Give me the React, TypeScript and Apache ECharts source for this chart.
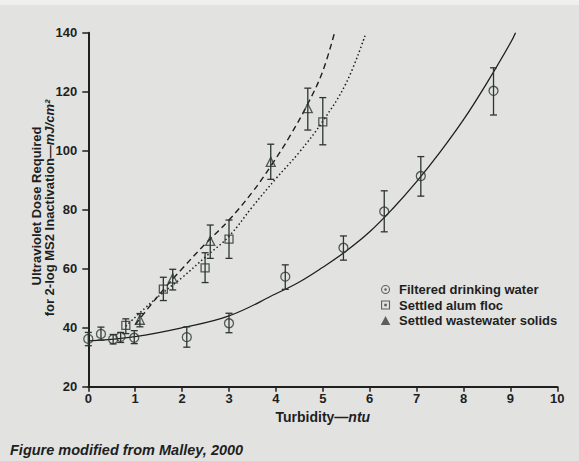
import React, { useEffect, useRef } from "react";
import * as echarts from "echarts";

// ---- Data ----
const filteredX = [0, 0.27, 0.53, 0.69, 0.98, 2.1, 3.0, 4.2, 5.44, 6.31, 7.09, 8.64];
const filteredY = [36.2, 37.9, 36.1, 36.9, 36.6, 36.8, 41.5, 57.3, 67.1, 79.4, 91.4, 120.3];
const filteredLow = [33.9, 35.8, 34.5, 35.0, 34.6, 33.4, 38.3, 53.0, 62.9, 72.5, 84.6, 112.1];
const filteredHigh = [38.4, 40.2, 37.7, 38.4, 39.0, 40.3, 44.9, 61.3, 71.1, 86.4, 98.0, 128.1];

const alumX = [0.8, 1.6, 2.49, 3.0, 5.0];
const alumY = [40.8, 53.1, 60.3, 70.0, 109.8];
const alumLow = [38.0, 49.2, 55.3, 63.5, 102.0];
const alumHigh = [43.0, 57.1, 65.4, 76.5, 118.0];

const wasteX = [1.1, 1.8, 2.6, 3.89, 4.68];
const wasteY = [42.7, 56.7, 69.4, 96.2, 114.4];
const wasteLow = [40.3, 52.8, 63.5, 90.3, 107.0];
const wasteHigh = [44.8, 59.8, 74.8, 102.2, 121.2];

// fitted curves
const solidCurveX = [0, 1, 2, 3, 4, 4.5, 5, 5.5, 6, 6.5, 7, 7.5, 8, 8.5, 9, 9.11];
const solidCurveY = [35.5, 37, 40, 44, 51.5, 55.5, 60.5, 66, 72.5, 80.5, 89.5, 99.5, 110.5, 123, 136.5, 140];

const dashedCurveX = [1.0, 1.5, 2.0, 2.5, 3.0, 3.5, 3.9, 4.3, 4.7, 5.0, 5.25];
const dashedCurveY = [41, 51, 60, 68.5, 76.5, 86, 95, 105, 116.5, 127, 140];

const dottedCurveX = [0.8, 1.2, 1.6, 2.0, 2.5, 3.0, 3.5, 4.0, 4.5, 5.0, 5.5, 5.9];
const dottedCurveY = [40.5, 46.5, 52, 57, 64, 71, 81, 90.5, 99.5, 110, 123, 139];

const seriesNames = ["Filtered drinking water", "Settled alum floc", "Settled wastewater solids"];
const xTicks = { min: 0, max: 10, interval: 1 };
const yTicks = { min: 20, max: 140, interval: 20 };

const FONT = '"Liberation Sans", Arial, Helvetica, sans-serif';
const INK = "#1e1f1e";
const MARK = "#2c352f";

const zip = (xs: number[], ys: number[]) => xs.map((x, i) => [x, ys[i]]);
const zip3 = (xs: number[], lo: number[], hi: number[]) => xs.map((x, i) => [x, lo[i], hi[i]]);

const errorBarRender = (params: any, api: any) => {
  const x = api.value(0);
  const lo = api.coord([x, api.value(1)]);
  const hi = api.coord([x, api.value(2)]);
  const cap = 3.5;
  const style = { stroke: MARK, lineWidth: 1.3 };
  return {
    type: "group",
    children: [
      { type: "line", shape: { x1: lo[0], y1: lo[1], x2: hi[0], y2: hi[1] }, style },
      { type: "line", shape: { x1: lo[0] - cap, y1: lo[1], x2: lo[0] + cap, y2: lo[1] }, style },
      { type: "line", shape: { x1: hi[0] - cap, y1: hi[1], x2: hi[0] + cap, y2: hi[1] }, style },
    ],
  };
};

const ringIcon =
  "path://M0,-5A5,5 0 1,1 0,5A5,5 0 1,1 0,-5Z M0,-3.8A3.8,3.8 0 1,0 0,3.8A3.8,3.8 0 1,0 0,-3.8Z M0,-1.4A1.4,1.4 0 1,1 0,1.4A1.4,1.4 0 1,1 0,-1.4Z";
const squareIcon =
  "path://M-5,-5L5,-5L5,5L-5,5Z M-3.8,-3.8L-3.8,3.8L3.8,3.8L3.8,-3.8Z M-1.4,-1.4L1.4,-1.4L1.4,1.4L-1.4,1.4Z";
const triIcon = "path://M0,-5L5,4.5L-5,4.5Z";

export default function App() {
  const ref = useRef<HTMLDivElement>(null);
  useEffect(() => {
    if (!ref.current) return;
    const chart = echarts.init(ref.current, null, { renderer: "svg" });
    const markerStyle = { color: "rgba(0,0,0,0)", borderColor: MARK, borderWidth: 1.3 };
    const lineBase = { color: INK, width: 1.3 };
    chart.setOption({
      animation: false,
      backgroundColor: "transparent",
      textStyle: { fontFamily: FONT },
      grid: { left: 88.3, right: 21.7, top: 32.7, bottom: 74.3, containLabel: false },
      xAxis: {
        type: "value",
        ...xTicks,
        name: "{a|Turbidity—}{b|ntu}",
        nameLocation: "middle",
        nameGap: 22,
        nameTextStyle: {
          rich: {
            a: { fontFamily: FONT, fontWeight: "bold", fontSize: 14, color: INK },
            b: { fontFamily: FONT, fontWeight: "bold", fontStyle: "italic", fontSize: 14, color: INK },
          },
        },
        axisLine: { onZero: false, lineStyle: { color: INK, width: 2 } },
        axisTick: { show: true, inside: false, length: 5, lineStyle: { color: INK, width: 1.5 } },
        axisLabel: { margin: 5, fontFamily: FONT, fontWeight: "bold", fontSize: 13, color: INK },
        splitLine: { show: false },
      },
      yAxis: {
        type: "value",
        ...yTicks,
        axisLine: { show: true, lineStyle: { color: INK, width: 2 } },
        axisTick: { show: true, inside: false, length: 6, lineStyle: { color: INK, width: 1.5 } },
        axisLabel: { margin: 11, fontFamily: FONT, fontWeight: "bold", fontSize: 13, color: INK },
        splitLine: { show: false },
      },
      legend: {
        orient: "vertical",
        left: 375.8,
        top: 278,
        itemWidth: 17,
        itemHeight: 9,
        itemGap: 2.5,
        symbolKeepAspect: true,
        textStyle: { fontFamily: FONT, fontWeight: "bold", fontSize: 13, color: INK, lineHeight: 13 },
        data: [
          { name: seriesNames[0], icon: ringIcon, itemStyle: { color: "#3a3f3b", borderWidth: 0 } },
          { name: seriesNames[1], icon: squareIcon, itemStyle: { color: "#3a3f3b", borderWidth: 0 } },
          { name: seriesNames[2], icon: triIcon, itemStyle: { color: "#3a3f3b", borderWidth: 0 } },
        ],
      },
      graphic: [
        { type: "rect", left: 0, top: 0, shape: { width: 579, height: 5 }, style: { fill: "#efefee" }, silent: true },
        {
          type: "text",
          x: 36,
          y: 206,
          rotation: Math.PI / 2,
          style: {
            text: "Ultraviolet Dose Required",
            font: `bold 13px ${FONT}`,
            fill: INK,
            align: "center",
            verticalAlign: "middle",
          },
        },
        {
          type: "text",
          x: 49.5,
          y: 208,
          rotation: Math.PI / 2,
          style: {
            text: "{a|for 2-log MS2 Inactivation—}{b|mJ/cm²}",
            align: "center",
            verticalAlign: "middle",
            rich: {
              a: { fontFamily: FONT, fontWeight: "bold", fontSize: 13, fill: INK, color: INK },
              b: { fontFamily: FONT, fontWeight: "bold", fontStyle: "italic", fontSize: 13, fill: INK, color: INK },
            },
          },
        },
        {
          type: "text",
          x: 10,
          y: 450,
          style: {
            text: "Figure modified from Malley, 2000",
            font: `italic bold 14.5px ${FONT}`,
            fill: INK,
            align: "left",
            verticalAlign: "middle",
          },
        },
      ],
      series: [
        {
          name: "fit-filtered",
          type: "line",
          data: zip(solidCurveX, solidCurveY),
          smooth: 0.4,
          showSymbol: false,
          symbol: "none",
          lineStyle: { ...lineBase, type: "solid" },
          silent: true,
          z: 1,
        },
        {
          name: "fit-alum",
          type: "line",
          data: zip(dottedCurveX, dottedCurveY),
          smooth: 0.4,
          showSymbol: false,
          symbol: "none",
          lineStyle: { ...lineBase, type: [1.5, 2.5], width: 1.5 },
          silent: true,
          z: 1,
        },
        {
          name: "fit-waste",
          type: "line",
          data: zip(dashedCurveX, dashedCurveY),
          smooth: 0.4,
          showSymbol: false,
          symbol: "none",
          lineStyle: { ...lineBase, type: [6, 4], width: 1.4 },
          silent: true,
          z: 1,
        },
        {
          name: "err-filtered",
          type: "custom",
          renderItem: errorBarRender,
          encode: { x: 0, y: [1, 2] },
          data: zip3(filteredX, filteredLow, filteredHigh),
          z: 2,
        },
        {
          name: "err-alum",
          type: "custom",
          renderItem: errorBarRender,
          encode: { x: 0, y: [1, 2] },
          data: zip3(alumX, alumLow, alumHigh),
          z: 2,
        },
        {
          name: "err-waste",
          type: "custom",
          renderItem: errorBarRender,
          encode: { x: 0, y: [1, 2] },
          data: zip3(wasteX, wasteLow, wasteHigh),
          z: 2,
        },
        {
          name: seriesNames[0],
          type: "scatter",
          symbol: "circle",
          symbolSize: 9,
          itemStyle: markerStyle,
          data: zip(filteredX, filteredY),
          z: 3,
        },
        {
          name: seriesNames[1],
          type: "scatter",
          symbol: "rect",
          symbolSize: 8,
          itemStyle: markerStyle,
          data: zip(alumX, alumY),
          z: 3,
        },
        {
          name: seriesNames[2],
          type: "scatter",
          symbol: "triangle",
          symbolSize: 9,
          itemStyle: markerStyle,
          data: zip(wasteX, wasteY),
          z: 3,
        },
      ],
    });
    return () => chart.dispose();
  }, []);
  return (
    <div
      ref={ref}
      style={{ position: "fixed", left: 0, top: 0, width: 579, height: 461, background: "#e2e3e1" }}
    />
  );
}
